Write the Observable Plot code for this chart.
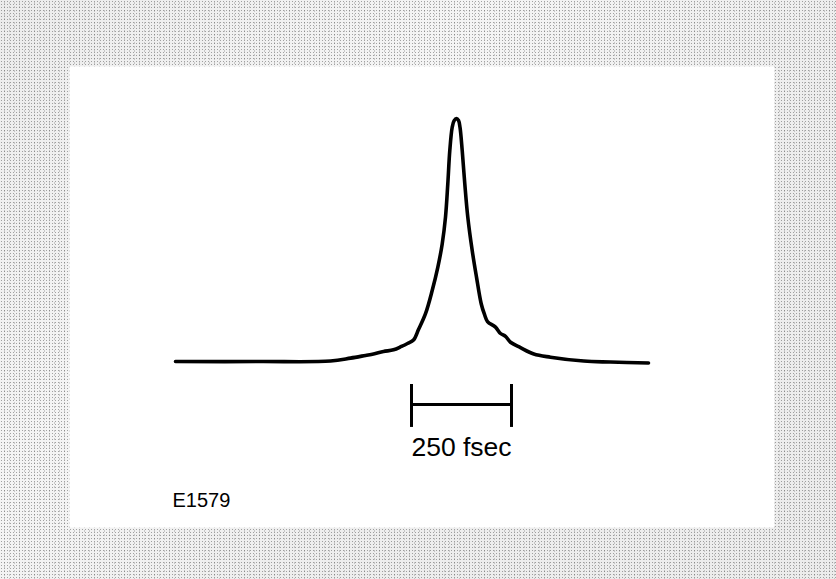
<!DOCTYPE html>
<html>
<head>
<meta charset="utf-8">
<script src="https://cdn.jsdelivr.net/npm/d3@7"></script>
<script src="https://cdn.jsdelivr.net/npm/@observablehq/plot@0.6"></script>
<style>
  html, body { margin: 0; padding: 0; background: #fff; }
  #chart { width: 836px; height: 579px; }
</style>
</head>
<body>
<div id="chart"></div>
<script>
// Pulse autocorrelation trace: time delay (fsec) vs. normalized intensity
const timeFs = [-702.5, -490, -315, -265, -227.5, -207.5, -182.5, -157.5, -137.5, -122.5, -107.5, -95, -77.5, -60.75, -46.75, -35.75, -27.5, -21.75, -16.75, -10.75, -6.25, 0, 5, 8.75, 14.25, 20.75, 28.25, 39.25, 50, 61.75, 70, 77.5, 97.5, 110, 122.5, 135, 160, 193.25, 235, 318.25, 385, 480];
const intensity = [0.004, 0.004, 0.006, 0.018, 0.029, 0.035, 0.045, 0.052, 0.066, 0.078, 0.092, 0.135, 0.2, 0.295, 0.39, 0.486, 0.596, 0.732, 0.869, 0.964, 0.99, 1.0, 0.992, 0.964, 0.869, 0.732, 0.596, 0.459, 0.35, 0.241, 0.197, 0.168, 0.145, 0.119, 0.107, 0.083, 0.061, 0.035, 0.022, 0.006, 0.002, -0.002];

// Scale bar (250 fsec)
const scaleBarStart = [-112.5];
const scaleBarEnd = [137.5];
const scaleBarLabel = ["250 fsec"];
const figureId = ["E1579"];

const data = timeFs.map((t, i) => ({t, v: intensity[i]}));
const bar = scaleBarStart.map((s, i) => ({x1: s, x2: scaleBarEnd[i], label: scaleBarLabel[i], mid: (s + scaleBarEnd[i]) / 2}));

const bg = [
  "radial-gradient(circle, rgba(80,80,80,0.5) 0.6px, transparent 0.9px)",
  "radial-gradient(circle, rgba(120,120,120,0.35) 0.6px, transparent 0.9px)",
  "linear-gradient(135deg, rgba(255,255,255,0.0) 0%, rgba(255,255,255,0.45) 35%, rgba(255,255,255,0.1) 60%, rgba(255,255,255,0.0) 100%)"
].join(",");

const chart = Plot.plot({
  width: 836,
  height: 579,
  marginLeft: 69,
  marginRight: 62,
  marginTop: 66,
  marginBottom: 52,
  x: {domain: [-967.5, 795], axis: null},
  y: {domain: [-0.676, 1.213], axis: null},
  style: {
    background: "#ececec",
    backgroundImage: bg,
    backgroundSize: "3px 3px, 5px 4px, 100% 100%",
    backgroundPosition: "0 0, 2px 1px, 0 0",
    fontFamily: "'Liberation Sans', Arial, Helvetica, sans-serif",
    color: "black"
  },
  marks: [
    Plot.frame({fill: "white", stroke: "none"}),
    Plot.line(data, {x: "t", y: "v", curve: "catmull-rom", stroke: "black", strokeWidth: 3.6, strokeLinecap: "round", strokeLinejoin: "round"}),
    Plot.ruleY(bar, {y: -0.172, x1: "x1", x2: "x2", stroke: "black", strokeWidth: 3}),
    Plot.ruleX(bar, {x: "x1", y1: -0.09, y2: -0.266, stroke: "black", strokeWidth: 3}),
    Plot.ruleX(bar, {x: "x2", y1: -0.09, y2: -0.266, stroke: "black", strokeWidth: 3}),
    Plot.text(bar, {x: "mid", y: -0.385, text: "label", fontSize: 26.5, lineAnchor: "bottom", textAnchor: "middle", fill: "black"}),
    Plot.text(figureId, {x: -710, y: -0.594, text: d => d, fontSize: 20, lineAnchor: "bottom", textAnchor: "start", fill: "black"})
  ]
});
document.getElementById("chart").appendChild(chart);
</script>
</body>
</html>
